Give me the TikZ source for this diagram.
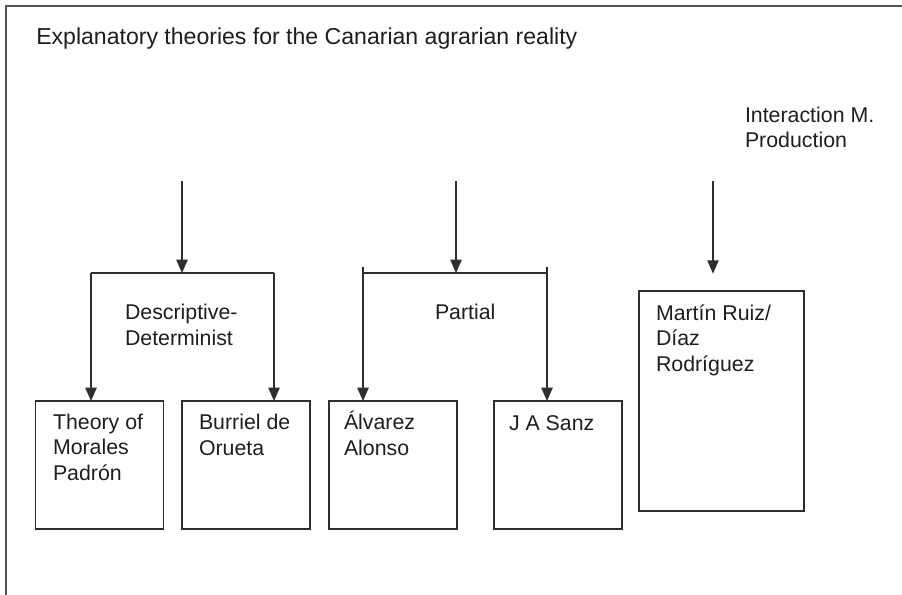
\documentclass[tikz,border=0pt]{standalone}
\usepackage{fontspec}
\setmainfont{Liberation Sans}
\usetikzlibrary{arrows.meta}
\definecolor{ink}{HTML}{1E1E1E}
\definecolor{edge}{HTML}{2E2E2E}
\definecolor{frame}{HTML}{555555}
\begin{document}
\begin{tikzpicture}[x=0.75pt,y=-0.75pt,
  lbl/.style={anchor=base west, inner sep=0pt, outer sep=0pt, align=left, text=ink,
    font=\fontsize{16pt}{18.9pt}\selectfont},
  titlelbl/.style={anchor=base west, inner sep=0pt, text=ink,
    font=\fontsize{17.3pt}{20pt}\selectfont},
  box/.style={draw=edge, line width=1.1pt, inner sep=0pt, outer sep=0pt,
    minimum width=96pt, minimum height=96pt},
  link/.style={draw=edge, line width=1.1pt},
  arr/.style={link, -{Triangle[width=8.5pt,length=10pt]}},
  frameline/.style={draw=frame, line width=1.6pt}
]
\useasboundingbox (0,0) rectangle (902,595);
% outer frame (only top and left edges visible)
\coordinate (fa) at (6,595);
\coordinate (fb) at (6,6);
\coordinate (fc) at (902,6);
\draw[frameline] (fa) -- (fb) -- (fc);

\node[titlelbl] (title) at (36,45) {Explanatory theories for the Canarian agrarian reality};

% boxes
\node[box] (b1) at (99.5,465) {};
\node[box] (b2) at (246,465) {};
\node[box] (b3) at (393,465) {};
\node[box] (b4) at (558,465) {};
\node[box, minimum width=123.75pt, minimum height=165pt] (b5) at (721.5,401) {};

% box texts (positions are the baselines of the last lines)
\node[lbl] (t1) at (53,480) {Theory of\\Morales\\Padrón};
\node[lbl] (t2) at (199,455) {Burriel de\\Orueta};
\node[lbl] (t3) at (344,455) {Álvarez\\Alonso};
\node[lbl] (t4) at (509,430) {J A Sanz};
\node[lbl] (t5) at (656,371) {Martín Ruiz/\\Díaz\\Rodríguez};

% group labels
\node[lbl] (gd) at (125,345) {Descriptive-\\Determinist};
\node[lbl] (gp) at (435,319) {Partial};
\node[lbl] (gi) at (745,148) {Interaction M.\\Production};

% descriptive-determinist branch
\coordinate (dtop) at (182,181);
\coordinate (djoin) at (182,273);
\coordinate (dl) at (91,273);
\coordinate (dr) at (274,273);
\draw[arr] (dtop) -- (djoin);
\draw[link] (dl) -- (dr);
\draw[arr] (dl) -- (dl |- b1.north);
\draw[arr] (dr) -- (dr |- b2.north);

% partial branch
\coordinate (ptop) at (456,181);
\coordinate (pjoin) at (456,273);
\coordinate (pl) at (363,273);
\coordinate (pr) at (547,273);
\coordinate (plt) at (363,267);
\coordinate (prt) at (547,267);
\draw[arr] (ptop) -- (pjoin);
\draw[link] (pl) -- (pr);
\draw[arr] (plt) -- (plt |- b3.north);
\draw[arr] (prt) -- (prt |- b4.north);

% interaction branch
\coordinate (itop) at (713,181);
\draw[arr, shorten >=13pt] (itop) -- (itop |- b5.north);
\end{tikzpicture}
\end{document}
